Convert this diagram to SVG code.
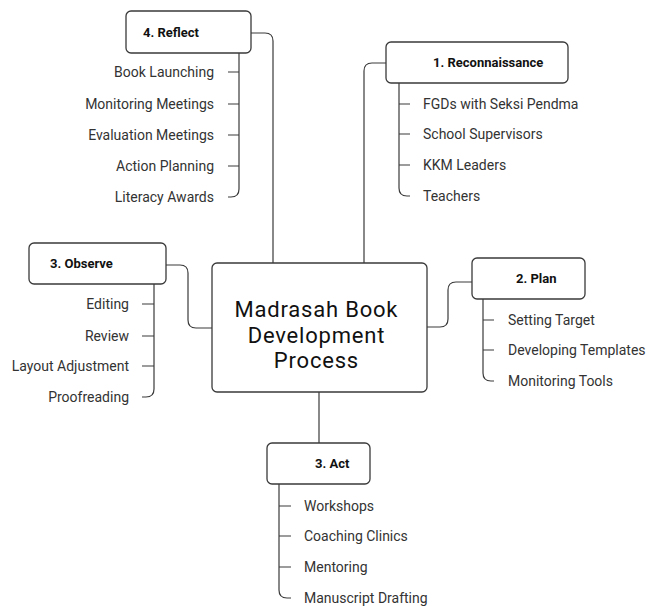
<svg xmlns="http://www.w3.org/2000/svg" width="648" height="606" viewBox="0 0 648 606">
<style>
.box{fill:#fff;stroke:#3a3a3a;stroke-width:1.3}
.ln{fill:none;stroke:#3a3a3a;stroke-width:1.2}
.h{font-family:Roboto,"Liberation Sans",sans-serif;font-weight:bold;font-size:13px;fill:#111}
.c{font-family:Roboto,"Liberation Sans",sans-serif;font-size:14px;fill:#333}
.r{text-anchor:end}
.m{font-family:Roboto,"Liberation Sans",sans-serif;font-size:22px;letter-spacing:0.8px;fill:#111;text-anchor:middle}
</style>
<rect width="648" height="606" fill="#fff"/>
<g id="connectors">
<path class="ln" d="M251,33 H265 Q273,33 273,41 V263"/>
<path class="ln" d="M386,63 H372 Q364,63 364,71 V263"/>
<path class="ln" d="M166,265 H180 Q188,265 188,273 V320 Q188,328 196,328 H212"/>
<path class="ln" d="M427,327 H440 Q448,327 448,319 V290 Q448,282 456,282 H472"/>
<path class="ln" d="M319,392 V443"/>
<path class="ln" d="M239,53 V189 Q239,197 231,197 H228 M228,72 H239 M228,104 H239 M228,135 H239 M228,166 H239"/>
<path class="ln" d="M399,83 V188 Q399,196 407,196 H410 M399,104 H410 M399,134 H410 M399,165 H410"/>
<path class="ln" d="M154,284 V389 Q154,397 146,397 H142 M142,304 H154 M142,336 H154 M142,366 H154"/>
<path class="ln" d="M483,299 V373 Q483,381 491,381 H494 M483,320 H494 M483,350 H494"/>
<path class="ln" d="M279,484 V590 Q279,598 287,598 H291 M279,506 H291 M279,536 H291 M279,567 H291"/>
</g>
<g id="center">
<rect class="box" x="212" y="263" width="215" height="129" rx="5"/>
<text class="m" x="316.4" y="317">Madrasah Book</text>
<text class="m" x="316.4" y="343">Development</text>
<text class="m" x="316.4" y="368">Process</text>
</g>
<g id="reflect">
<rect class="box" x="126" y="11" width="125" height="42" rx="5"/>
<text class="h" x="143" y="36.5">4. Reflect</text>
<text class="c r" x="214" y="77">Book Launching</text>
<text class="c r" x="214" y="109">Monitoring Meetings</text>
<text class="c r" x="214" y="140">Evaluation Meetings</text>
<text class="c r" x="214" y="171">Action Planning</text>
<text class="c r" x="214" y="202">Literacy Awards</text>
</g>
<g id="reconnaissance">
<rect class="box" x="386" y="42" width="182" height="41" rx="5"/>
<text class="h" x="433" y="67">1. Reconnaissance</text>
<text class="c" x="423" y="109">FGDs with Seksi Pendma</text>
<text class="c" x="423" y="139">School Supervisors</text>
<text class="c" x="423" y="170">KKM Leaders</text>
<text class="c" x="423" y="201">Teachers</text>
</g>
<g id="observe">
<rect class="box" x="29" y="243" width="137" height="41" rx="5"/>
<text class="h" x="50" y="268">3. Observe</text>
<text class="c r" x="129" y="309">Editing</text>
<text class="c r" x="129" y="341">Review</text>
<text class="c r" x="129" y="371">Layout Adjustment</text>
<text class="c r" x="129" y="402">Proofreading</text>
</g>
<g id="plan">
<rect class="box" x="472" y="258" width="113" height="41" rx="5"/>
<text class="h" x="516" y="283">2. Plan</text>
<text class="c" x="508" y="325">Setting Target</text>
<text class="c" x="508" y="355">Developing Templates</text>
<text class="c" x="508" y="386">Monitoring Tools</text>
</g>
<g id="act">
<rect class="box" x="267" y="443" width="103" height="41" rx="5"/>
<text class="h" x="315" y="468">3. Act</text>
<text class="c" x="304" y="511">Workshops</text>
<text class="c" x="304" y="541">Coaching Clinics</text>
<text class="c" x="304" y="572">Mentoring</text>
<text class="c" x="304" y="603">Manuscript Drafting</text>
</g>
</svg>
